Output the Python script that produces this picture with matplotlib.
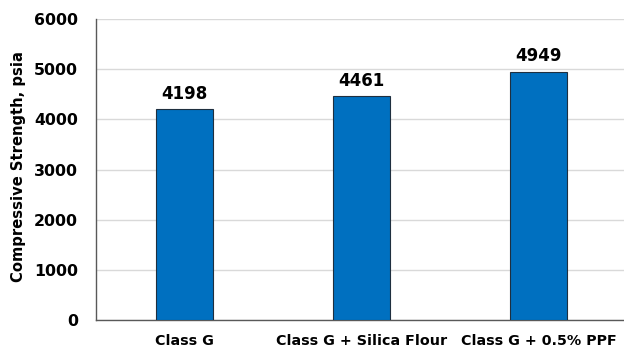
import matplotlib
matplotlib.use("Agg")
import matplotlib.pyplot as plt

categories = ["Class G", "Class G + Silica Flour", "Class G + 0.5% PPF"]
strength = [4198, 4461, 4949]
yticks = [0, 1000, 2000, 3000, 4000, 5000, 6000]

plt.rcParams["font.family"] = ["DejaVu Sans"]
plt.rcParams["font.weight"] = "bold"

fig = plt.figure(figsize=(6.24, 3.52), dpi=100)
ax = fig.add_axes([96 / 624, 1 - 320 / 352, 531 / 624, 301 / 352])

x = list(range(len(categories)))
bars = ax.bar(x, strength, width=0.32, color="#0070C0", edgecolor="#1F2F3F",
              linewidth=0.8, zorder=3)
for xi, v in zip(x, strength):
    ax.text(xi, v + 130, str(v), ha="center", va="bottom", fontsize=12,
            fontweight="bold", color="black")

ax.set_xlim(-0.5, 2.5)
ax.set_ylim(0, 6000)
ax.set_yticks(yticks)
ax.set_yticklabels([str(t) for t in yticks], fontsize=11.3, fontweight="bold")
ax.set_xticks(x)
ax.set_xticklabels(categories, fontsize=10.3, fontweight="bold")
ax.tick_params(axis="x", length=0, pad=10)
ax.tick_params(axis="y", length=0, pad=13)
ax.set_ylabel("Compressive Strength, psia", fontsize=10.6, fontweight="bold")
ax.yaxis.set_label_coords(-0.132, 0.51)

ax.yaxis.grid(True, color="#D9D9D9", linewidth=1, zorder=0)
ax.set_axisbelow(True)
for side in ("top", "right"):
    ax.spines[side].set_visible(False)
for side in ("left", "bottom"):
    ax.spines[side].set_color("#595959")
    ax.spines[side].set_linewidth(1)

fig.savefig("out.png", dpi=100)
